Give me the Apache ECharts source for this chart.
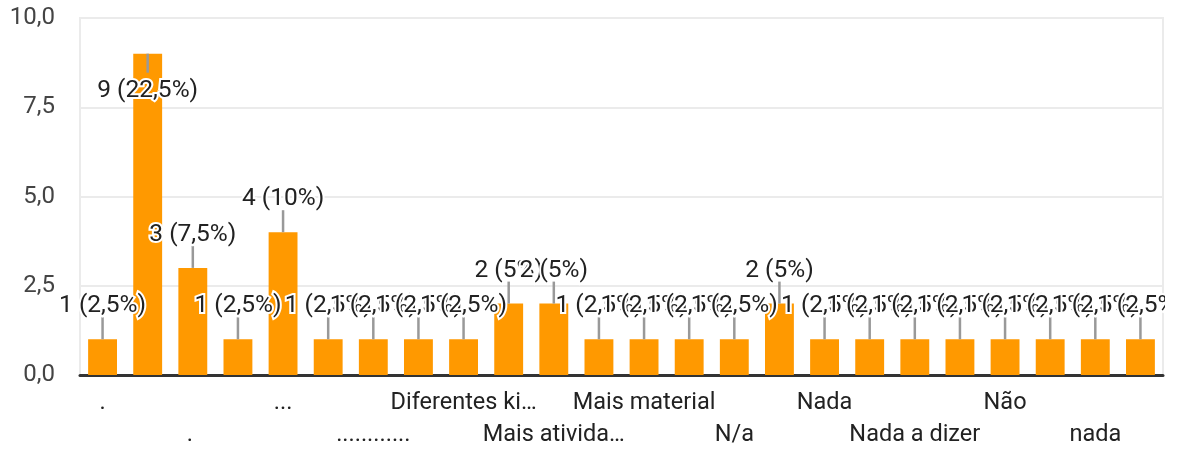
<!DOCTYPE html>
<html><head><meta charset="utf-8">
<script src="https://cdn.jsdelivr.net/npm/echarts@6/dist/echarts.min.js"></script>
<style>html,body{margin:0;padding:0;background:#fff;} #c{width:1165px;height:451px;overflow:hidden;}</style>
</head><body><div id="c"></div>
<script>
// Categories (odd-index labels are hidden by the axis interval, as in the reference)
const categories = [".", "..", ". ", "-", "...", "....", "............", "Boa", "Diferentes ki\u2026", "Gostei", "Mais ativida\u2026", "Mais dinâmica", "Mais material", "Muito bom", "N/a", "Na", "Nada", "Nada a acrescentar", "Nada a dizer", "Nada.", "Não", "Não sei", "nada", "nenhuma"];
const values = [1, 9, 3, 1, 4, 1, 1, 1, 1, 2, 2, 1, 1, 1, 1, 2, 1, 1, 1, 1, 1, 1, 1, 1];
const yMin = 0, yMax = 10, yStep = 2.5;

const total = values.reduce((a, b) => a + b, 0);
function fmtPct(v) {
  const p = v / total * 100;
  const s = Number.isInteger(p) ? String(p) : p.toFixed(1).replace('.', ',');
  return v + ' (' + s + '%)';
}
const FONT = 'Roboto, "Liberation Sans", Arial, sans-serif';

const chart = echarts.init(document.getElementById('c'), null, {renderer: 'canvas'});
chart.setOption({
  animation: false,
  backgroundColor: '#fff',
  grid: {left: 80, right: 2, top: 18, bottom: 76, show: true, borderColor: '#ebebeb', borderWidth: 2, containLabel: false},
  xAxis: {
    type: 'category',
    data: categories,
    axisTick: {show: false},
    axisLine: {lineStyle: {color: '#333', width: 3}},
    axisLabel: {
      interval: 1,
      margin: 12,
      color: '#222',
      fontSize: 23.5,
      fontFamily: FONT,
      lineHeight: 32,
      formatter: (val, idx) => (idx % 4 === 2 ? '\n' : '') + val
    }
  },
  yAxis: {
    type: 'value',
    min: yMin, max: yMax, interval: yStep,
    axisLine: {show: false},
    axisTick: {show: false},
    splitLine: {lineStyle: {color: '#ebebeb', width: 2}},
    axisLabel: {
      color: '#444', fontSize: 24, fontFamily: FONT, margin: 25,
      formatter: v => v.toFixed(1).replace('.', ',')
    }
  },
  series: [
    {
      type: 'bar',
      data: values,
      barWidth: '64%',
      itemStyle: {color: '#ff9900'},
      z: 2
    },
    {
      type: 'custom',
      data: values.map((v, i) => [i, v]),
      z: 5,
      clip: false,
      renderItem: function (params, api) {
        const i = api.value(0), v = api.value(1);
        const pt = api.coord([i, v]);
        const cs = params.coordSys;
        const x = pt[0], y = pt[1];
        let y2, ty;
        if (y - 33 - 12 >= cs.y) { y2 = y - 22; ty = y - 33; }
        else { y2 = y + 19; ty = y + 37; }
        return {
          type: 'group',
          children: [
            {type: 'line', shape: {x1: x, y1: y, x2: x, y2: y2}, style: {stroke: '#999', lineWidth: 2.5}},
            {type: 'text', style: {text: fmtPct(v), x: x, y: ty, fill: '#222', stroke: '#fff', lineWidth: 4,
              fontSize: 24.5, fontFamily: FONT, align: 'center', verticalAlign: 'middle'}}
          ]
        };
      }
    }
  ]
});
</script></body></html>
